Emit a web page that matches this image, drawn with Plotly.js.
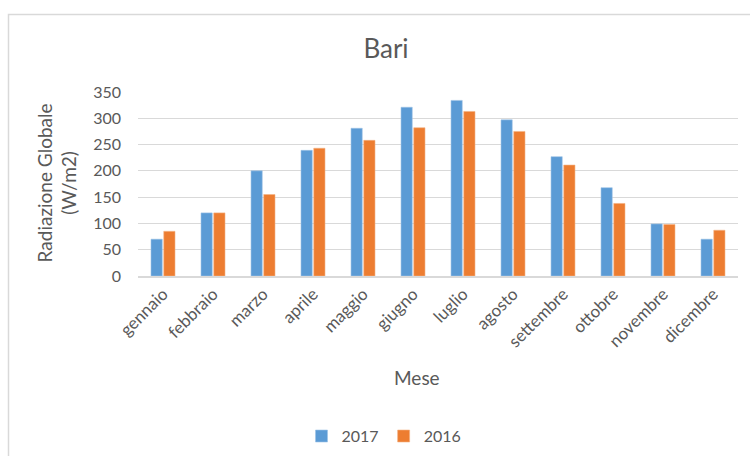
<!DOCTYPE html>
<html>
<head>
<meta charset="utf-8">
<script src="https://cdn.plot.ly/plotly-3.0.1.min.js"></script>
<style>html,body{margin:0;padding:0;background:#fff;}#chart{width:750px;height:456px;}</style>
</head>
<body>
<div id="chart"></div>
<script>
const mesi = ["gennaio","febbraio","marzo","aprile","maggio","giugno","luglio","agosto","settembre","ottobre","novembre","dicembre"];
const valori2017 = [70, 120, 200, 239, 281, 321, 334, 297, 227, 168, 99, 70];
const valori2016 = [85, 120, 155, 243, 258, 282, 313, 275, 211, 138, 98, 87];
const yTicks = [0, 50, 100, 150, 200, 250, 300, 350];

const FONT = "Lato, 'Open Sans', sans-serif";
const TXT = "#595959";
const GRID = "#D9D9D9";

const traces = [
  {type: "bar", name: "2017", x: mesi, y: valori2017, marker: {color: "#5B9BD5", line: {color: "#9DC3E6", width: 0.6}}},
  {type: "bar", name: "2016", x: mesi, y: valori2016, marker: {color: "#ED7D31", line: {color: "#F4B183", width: 0.6}}}
];

const layout = {
  width: 750, height: 456,
  margin: {l: 138, r: 12, t: 92, b: 180, autoexpand: false},
  paper_bgcolor: "#fff", plot_bgcolor: "#fff",
  font: {family: FONT, color: TXT, size: 16},
  barmode: "group", bargap: 0.49, bargroupgap: 0.12,
  title: {text: "Bari", font: {family: FONT, size: 26, color: TXT}, x: 386 / 750, xanchor: "center", xref: "container", yref: "container", y: 1 - 49 / 456, yanchor: "middle"},
  showlegend: true,
  legend: {orientation: "h", x: (384 - 138) / 600, xanchor: "center", y: (275.7 - 436) / 184.2, yanchor: "middle", font: {size: 16, color: TXT}, itemwidth: 30, traceorder: "normal"},
  xaxis: {type: "category", showline: true, linecolor: GRID, linewidth: 1.5, ticks: "", tickangle: -45, tickfont: {size: 17, color: TXT}, showgrid: false, fixedrange: true, automargin: false},
  yaxis: {range: [0, 350], tickvals: yTicks, ticktext: yTicks.map(String), showgrid: true, gridcolor: GRID, gridwidth: 1, zeroline: false, showline: false, ticks: "", ticklen: 0, tickfont: {size: 16, color: TXT}, fixedrange: true, ticklabelstandoff: 16, automargin: false},
  annotations: [
    {text: "Radiazione Globale<br>(W/m2)", xref: "paper", yref: "paper", x: (57 - 138) / 600, y: (275.7 - 183) / 184.2, xanchor: "center", yanchor: "middle", textangle: -90, showarrow: false, font: {size: 19, color: TXT, family: FONT}},
    {text: "Mese", xref: "paper", yref: "paper", x: (417 - 138) / 600, y: (275.7 - 377) / 184.2, xanchor: "center", yanchor: "middle", showarrow: false, font: {size: 19, color: TXT, family: FONT}}
  ],
  shapes: [
    {type: "path", xref: "paper", yref: "paper", path: `M ${(8.5-138)/600} ${(275.7-460)/184.2} L ${(8.5-138)/600} ${(275.7-14)/184.2} L ${(760-138)/600} ${(275.7-14)/184.2}`, line: {color: GRID, width: 1.5}, layer: "below"}
  ]
};

Plotly.newPlot("chart", traces, layout, {displayModeBar: false, staticPlot: true});
</script>
</body>
</html>
